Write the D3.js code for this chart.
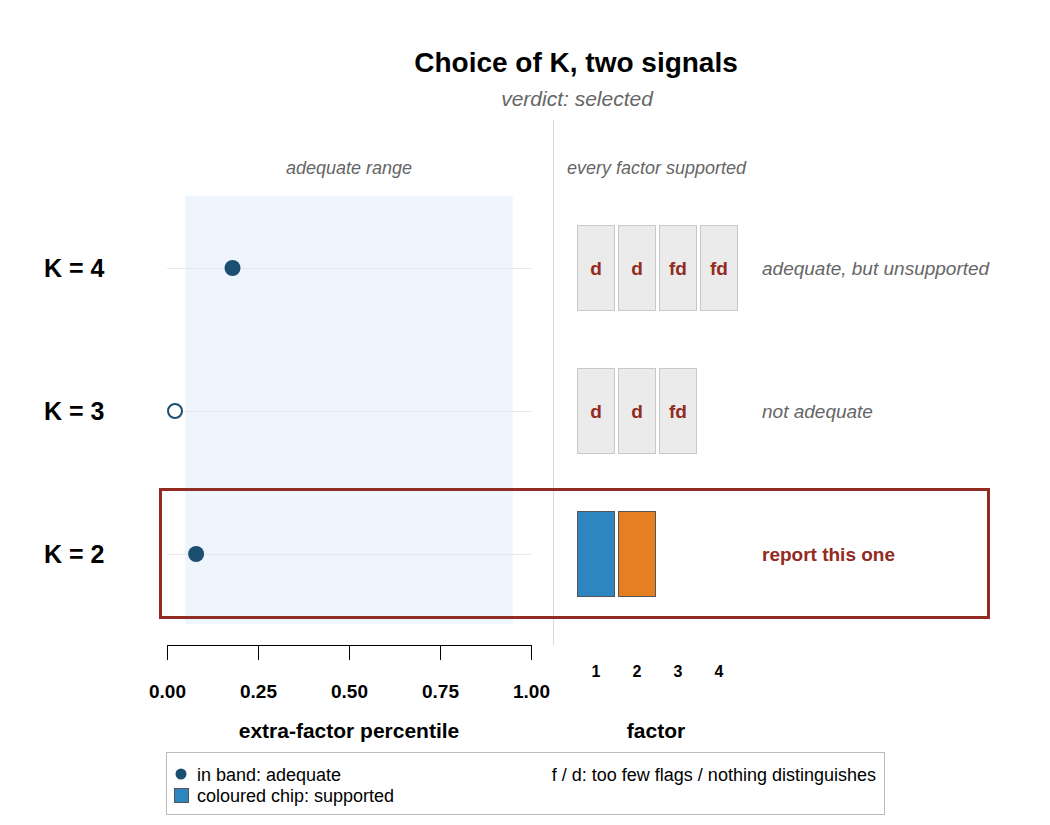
<!DOCTYPE html>
<html>
<head>
<meta charset="utf-8">
<script src="https://cdn.jsdelivr.net/npm/d3@7"></script>
<style>
  body { margin: 0; background: #fff; }
  svg { font-family: "Liberation Sans", Arial, sans-serif; }
</style>
</head>
<body>
<div id="chart"></div>
<script>
// rows, top to bottom
var kLabels = ["K = 4", "K = 3", "K = 2"];
var percentile = [0.18, 0.022, 0.08];
var adequate = [true, false, true];
var chipFlags = [["d", "d", "fd", "fd"], ["d", "d", "fd"], ["", ""]];
var chipSupported = [[false, false, false, false], [false, false, false], [true, true]];
var rowNotes = ["adequate, but unsupported", "not adequate", "report this one"];
var selectedRow = "K = 2";
var band = [0.05, 0.95];
var xTicks = [0, 0.25, 0.5, 0.75, 1];
var factors = [1, 2, 3, 4];
var factorColors = ["#2E86C1", "#E67E22", "#27AE60", "#8E44AD"];

var red = "#922B21", navy = "#1B4F72", grey = "#666";
var fontStack = "'Liberation Sans', Arial, sans-serif";

var svg = d3.select("#chart").append("svg")
    .attr("width", 1050).attr("height", 825);

var x = d3.scaleLinear().domain([0, 1]).range([167, 531]);
var y = d3.scalePoint().domain(kLabels).range([268, 554]);
var fx = d3.scaleBand().domain(factors).range([577, 738]).paddingInner(0.073);

// title
svg.append("text").attr("x", 576).attr("y", 72).attr("text-anchor", "middle")
    .style("font-size", "28px").style("font-weight", "bold")
    .text("Choice of K, two signals");
svg.append("text").attr("x", 577).attr("y", 106).attr("text-anchor", "middle")
    .style("font-size", "21px").style("font-style", "italic").style("fill", grey)
    .text("verdict: selected");

// adequate band
svg.append("rect")
    .attr("x", x(band[0])).attr("width", x(band[1]) - x(band[0]))
    .attr("y", 196).attr("height", 428)
    .style("fill", "#EEF5FC");
svg.append("text").attr("x", x(0.5)).attr("y", 174).attr("text-anchor", "middle")
    .style("font-size", "18px").style("font-style", "italic").style("fill", grey)
    .text("adequate range");

// divider
svg.append("line").attr("x1", 553.5).attr("x2", 553.5).attr("y1", 120).attr("y2", 645)
    .style("stroke", "#d9d9d9").style("stroke-width", 1);

// row gridlines
svg.selectAll(".grid").data(kLabels).enter().append("line")
    .attr("class", "grid")
    .attr("x1", x(0)).attr("x2", x(1))
    .attr("y1", function(d) { return y(d) + 0.5; })
    .attr("y2", function(d) { return y(d) + 0.5; })
    .style("stroke", "#e8e8e8").style("stroke-width", 1);

// K labels
svg.selectAll(".klab").data(kLabels).enter().append("text")
    .attr("class", "klab")
    .attr("x", 44).attr("y", function(d) { return y(d); })
    .attr("dy", "0.36em")
    .style("font-size", "25px").style("font-weight", "bold")
    .text(function(d) { return d; });

// points
svg.selectAll(".pt").data(kLabels).enter().append("circle")
    .attr("class", "pt")
    .attr("cx", function(d, i) { return x(percentile[i]); })
    .attr("cy", function(d) { return y(d); })
    .attr("r", function(d, i) { return adequate[i] ? 8 : 7; })
    .style("fill", function(d, i) { return adequate[i] ? navy : "#fff"; })
    .style("stroke", navy)
    .style("stroke-width", function(d, i) { return adequate[i] ? 0 : 2; });

// x axis
var xAxis = svg.append("g").attr("transform", "translate(0,645)")
    .call(d3.axisBottom(x).tickValues(xTicks).tickFormat(d3.format(".2f"))
        .tickSize(15).tickPadding(25));
xAxis.selectAll("path, line").style("stroke", "#000");
xAxis.selectAll("text").style("font-size", "19px").style("font-weight", "bold")
    .style("font-family", fontStack).style("fill", "#000");
svg.append("text").attr("x", x(0.5)).attr("y", 738).attr("text-anchor", "middle")
    .style("font-size", "21px").style("font-weight", "bold")
    .text("extra-factor percentile");

// factor panel
svg.append("text").attr("x", 567).attr("y", 174)
    .style("font-size", "18px").style("font-style", "italic").style("fill", grey)
    .text("every factor supported");

var rows = svg.selectAll(".chiprow").data(kLabels).enter().append("g")
    .attr("class", "chiprow")
    .attr("transform", function(d) { return "translate(0," + y(d) + ")"; });

var chips = rows.selectAll(".chip")
    .data(function(d, i) {
        return chipFlags[i].map(function(f, j) {
            return { factor: factors[j], flag: f, supported: chipSupported[i][j] };
        });
    })
    .enter().append("g").attr("class", "chip");

chips.append("rect")
    .attr("x", function(d) { return fx(d.factor) + 0.5; })
    .attr("y", -42.5)
    .attr("width", fx.bandwidth() - 1).attr("height", 85)
    .style("fill", function(d) { return d.supported ? factorColors[d.factor - 1] : "#EBEBEB"; })
    .style("stroke", function(d) { return d.supported ? "#555" : "#C8C8C8"; })
    .style("stroke-width", 1);

chips.append("text")
    .attr("x", function(d) { return fx(d.factor) + fx.bandwidth() / 2; })
    .attr("dy", "0.36em").attr("text-anchor", "middle")
    .style("font-size", "19px").style("font-weight", "bold").style("fill", red)
    .text(function(d) { return d.flag; });

rows.append("text")
    .attr("x", 762).attr("dy", "0.36em")
    .style("font-size", "19px")
    .style("font-style", function(d) { return d === selectedRow ? "normal" : "italic"; })
    .style("font-weight", function(d) { return d === selectedRow ? "bold" : "normal"; })
    .style("fill", function(d) { return d === selectedRow ? red : grey; })
    .text(function(d, i) { return rowNotes[i]; });

// factor axis
var fAxis = svg.append("g").attr("transform", "translate(0,660)")
    .call(d3.axisBottom(fx).tickSize(0).tickPadding(6));
fAxis.select(".domain").remove();
fAxis.selectAll("text").style("font-size", "16px").style("font-weight", "bold")
    .style("font-family", fontStack).style("fill", "#000");
svg.append("text").attr("x", 656).attr("y", 738).attr("text-anchor", "middle")
    .style("font-size", "21px").style("font-weight", "bold")
    .text("factor");

// highlight box around selected row
svg.append("rect")
    .attr("x", 160.5).attr("y", y(selectedRow) - 64.5)
    .attr("width", 828).attr("height", 128)
    .style("fill", "none").style("stroke", red).style("stroke-width", 3);

// legend
var legend = svg.append("g");
legend.append("rect").attr("x", 166.5).attr("y", 752.5).attr("width", 718).attr("height", 62)
    .style("fill", "#fff").style("stroke", "#bbb");
legend.append("circle").attr("cx", 181).attr("cy", 774).attr("r", 5.5).style("fill", navy);
legend.append("text").attr("x", 197).attr("y", 781).style("font-size", "18px")
    .text("in band: adequate");
legend.append("rect").attr("x", 174.5).attr("y", 788.5).attr("width", 14).attr("height", 14)
    .style("fill", factorColors[0]).style("stroke", "#555");
legend.append("text").attr("x", 197).attr("y", 802).style("font-size", "18px")
    .text("coloured chip: supported");
legend.append("text").attr("x", 876).attr("y", 781).attr("text-anchor", "end")
    .style("font-size", "18px")
    .text("f / d: too few flags / nothing distinguishes");
</script>
</body>
</html>
